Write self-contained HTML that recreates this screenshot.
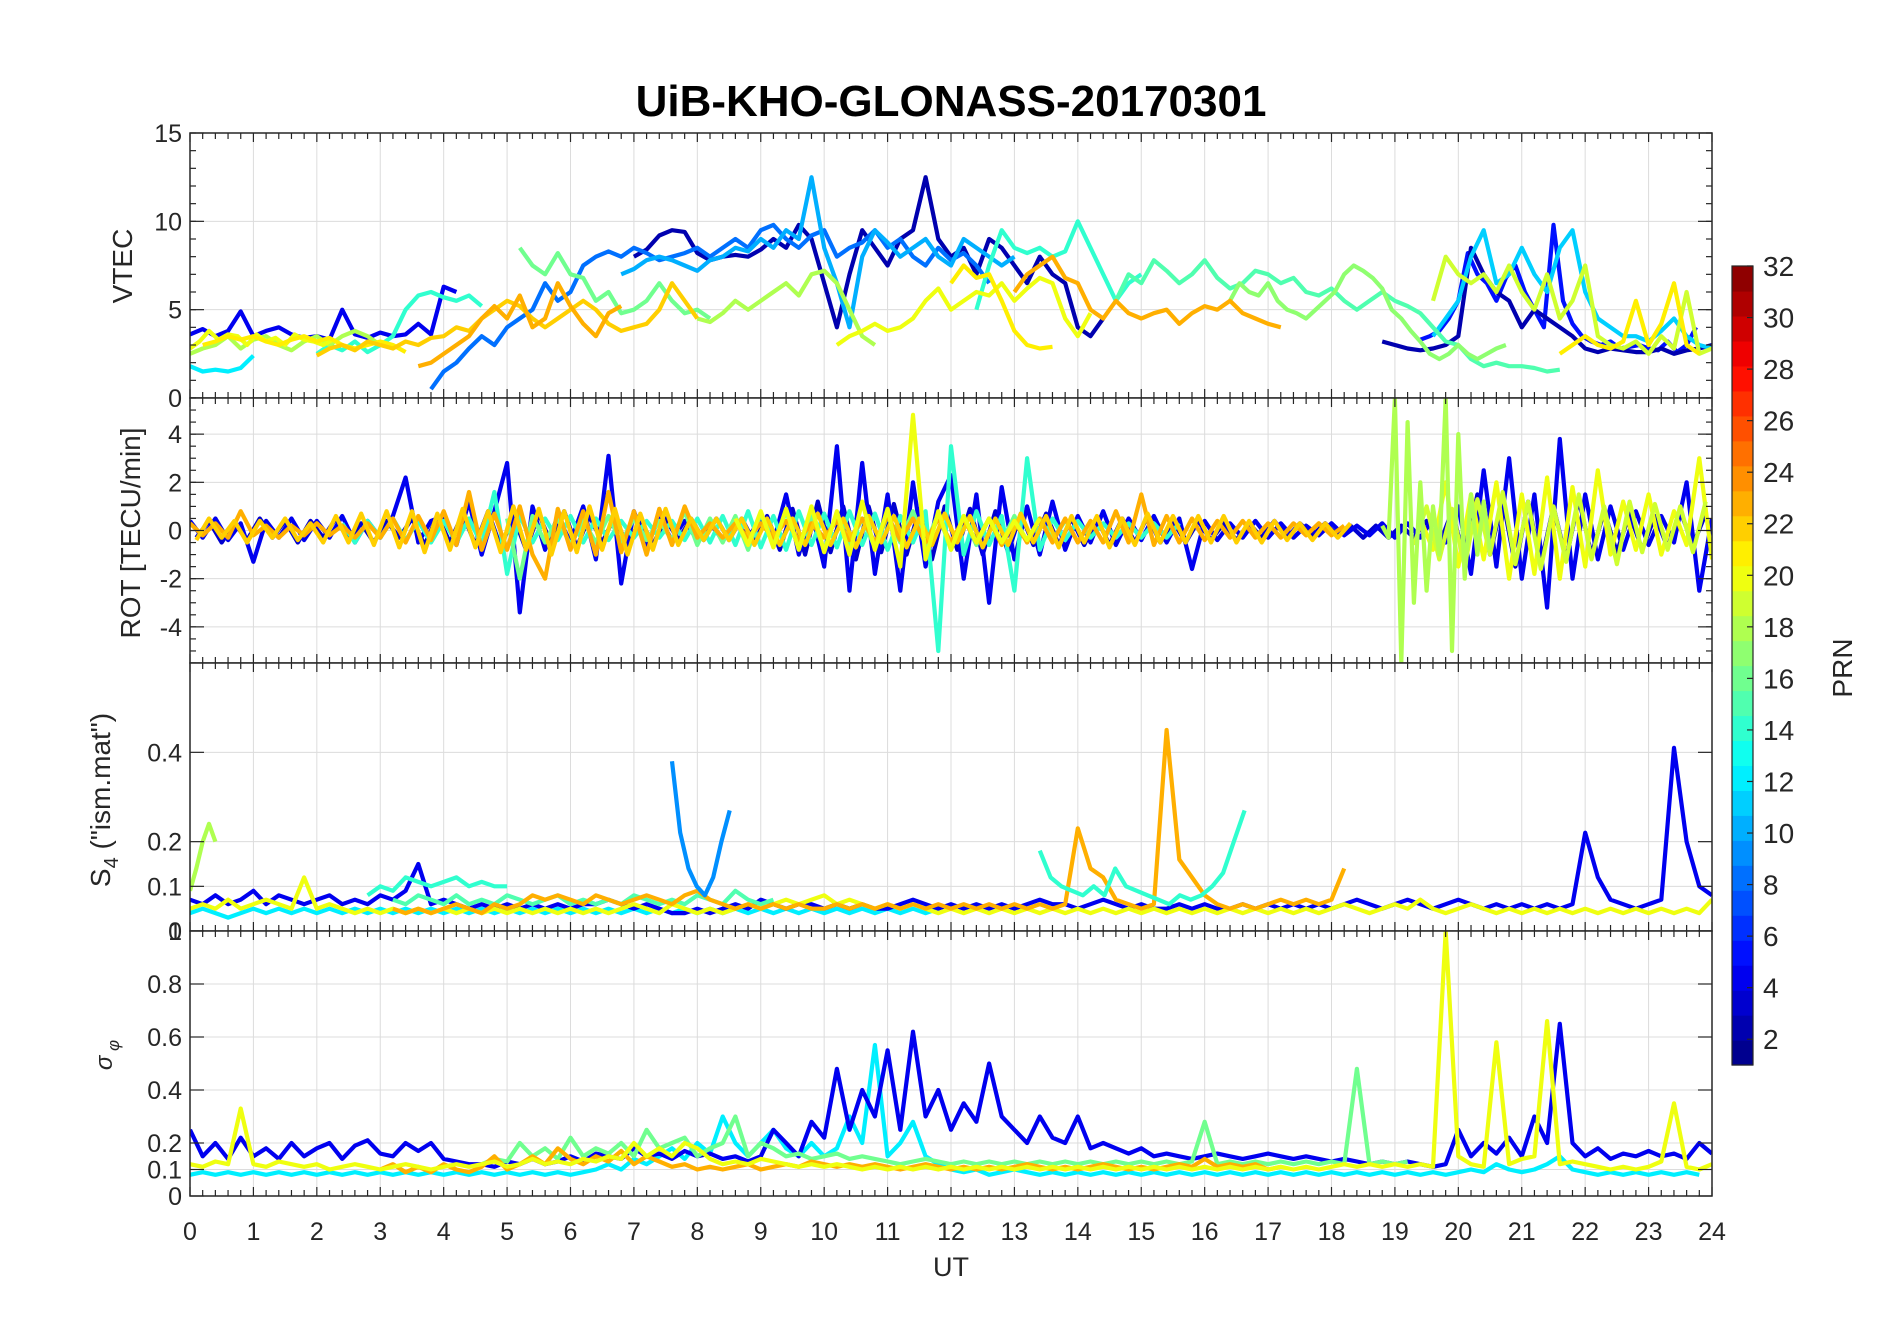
<!DOCTYPE html>
<html><head><meta charset="utf-8"><style>
html,body{margin:0;padding:0;background:#fff;}
svg{display:block;font-family:"Liberation Sans",Arial,sans-serif;}
</style></head><body>
<svg id="fig" width="1902" height="1330" viewBox="0 0 1902 1330" xmlns="http://www.w3.org/2000/svg">
<text x="951" y="116" text-anchor="middle" font-size="44" font-weight="bold" fill="#000">UiB-KHO-GLONASS-20170301</text>
<g id="panels"></g>
<text x="951" y="1276" text-anchor="middle" font-size="27" fill="#262626">UT</text>
<text transform="translate(132,266) rotate(-90)" text-anchor="middle" font-size="28" fill="#262626">VTEC</text>
<text transform="translate(140,533) rotate(-90)" text-anchor="middle" font-size="28" fill="#262626">ROT [TECU/min]</text>
<text transform="translate(110,800) rotate(-90)" text-anchor="middle" font-size="28" fill="#262626">S<tspan font-size="20" dy="8">4</tspan><tspan dy="-8"> ("ism.mat")</tspan></text>
<text transform="translate(112,1055) rotate(-90)" text-anchor="middle" font-size="24" font-style="italic" fill="#262626">σ<tspan font-size="17" dy="7"> φ</tspan></text>
<g id="cbar"></g>
<text transform="translate(1852,668) rotate(-90)" text-anchor="middle" font-size="28" fill="#262626">PRN</text>
</svg>
<script>
// ---------- data ----------
const hourTicks=[0,1,2,3,4,5,6,7,8,9,10,11,12,13,14,15,16,17,18,19,20,21,22,23,24];
const vtecTicks=[0,5,10,15];
const rotTicks=[-4,-2,0,2,4];
const s4Ticks=[0,0.1,0.2,0.4];
const s4TickLabels=["0","0.1","0.2","0.4"];
const sigTicks=[0,0.1,0.2,0.4,0.6,0.8,1];
const sigTickLabels=["0","0.1","0.2","0.4","0.6","0.8","1"];
const cbarTicks=[2,4,6,8,10,12,14,16,18,20,22,24,26,28,30,32];

// VTEC series
const vtecBlue=[3.6,3.9,3.5,3.8,4.9,3.5,3.8,4.0,3.6,3.4,3.5,3.3,5.0,3.6,3.4,3.7,3.5,3.6,4.2,3.6,6.3,6.0];
const vtecBlue2=[3.3,3.5,3.8,4.5,5.5,8.2,7.0,6.5,5.5,6.8,7.5,6.0,5.0,4.0,9.8,5.5,4.2,3.5,3.2,3.0,3.2,2.8,2.9,3.0,2.8,2.7,3.2,2.6,3.0,4.0];
const vtecNavy=[8.0,8.4,9.2,9.5,9.4,8.2,7.8,8.0,8.1,8.0,8.4,9.0,8.5,9.8,9.0,6.5,4.0,7.0,9.5,8.5,7.5,9.0,9.5,12.5,9.0,8.0,8.5,7.0,9.0,8.5,7.5,6.5,8.0,7.0,6.5,4.0,3.5,4.5];
const vtecNavy2=[3.2,3.0,2.8,2.7,2.8,3.0,3.5,8.5,7.0,6.0,5.5,4.0,5.0,4.5,4.0,3.5,2.8,2.6,2.8,2.7,2.6,2.6,2.8,2.5,2.7,2.8,3.0];
const vtecAzure=[0.5,1.5,2.0,2.8,3.5,3.0,4.0,4.5,5.0,6.5,5.5,6.0,7.5,8.0,8.3,8.0,8.5,8.2,7.8,8.0,8.2,8.5,8.0,8.5,9.0,8.5,9.5,9.8,9.0,8.5,9.2,9.5,8.0,8.5,8.8,9.5,8.5,9.0,8.0,7.5,8.5,7.8,8.2,7.5,6.5];
const vtecSky=[7.0,7.3,7.8,8.0,7.8,7.5,7.2,7.8,8.0,8.5,8.3,9.0,8.5,9.5,9.0,12.5,8.5,6.5,4.0,8.0,9.5,8.8,8.0,8.5,9.0,8.0,7.5,9.0,8.5,8.0,7.5,8.0];
const vtecSky2=[3.5,4.5,5.5,8.0,9.5,6.5,7.0,8.5,7.0,6.0,8.5,9.5,6.0,4.5,4.0,3.5,3.5,3.2,3.8,4.5,3.5,3.0,2.8];
const vtecCyan=[1.8,1.5,1.6,1.5,1.7,2.4];
const vtecAqua=[2.5,3.0,2.7,3.2,2.6,3.0,3.5,5.0,5.8,6.0,5.7,5.5,5.8,5.2,null,null,null,null,null,null,null,null,null,null,null,null,null,null,null,null,null,null,null,null,null,null,null,null,null,null,null,null,null,null,null,null,null,null,null,null,null,null,5.0,7.5,9.5,8.5,8.2,8.5,8.0,8.3,10.0,8.5,7.0,5.5,6.5,7.0];
const vtecSpring=[5.5,7.0,6.5,7.8,7.2,6.5,7.0,7.8,6.8,6.2,6.5,7.2,7.0,6.5,6.8,6.0,5.8,6.2,5.5,5.0,5.5,6.0,5.5,5.2,4.8,4.0,3.2,3.0,2.2,1.8,2.0,1.8,1.8,1.7,1.5,1.6];
const vtecLime=[8.5,7.5,7.0,8.2,7.0,6.8,5.5,6.0,4.8,5.0,5.5,6.5,5.5,4.8,5.0,4.5];
const vtecLime2=[5.5,6.5,6.0,5.8,6.5,5.5,5.0,4.8,4.5,5.0,5.5,6.0,7.0,7.5,7.2,6.8,6.2,5.0,4.5,3.8,3.2,2.5,2.2,2.5,3.0,2.5,2.2,2.5,2.8,3.0];
const vtecYG=[2.5,2.8,3.0,3.5,2.8,3.3,3.5,3.0,2.7,3.2,3.5,3.0,3.5,3.8,3.5,3.0];
const vtecYG2=[4.5,4.3,4.8,5.5,5.0,5.5,6.0,6.5,5.8,7.0,7.2,6.5,5.0,3.5,3.0];
const vtecYellow=[2.8,3.2,3.8,3.3,3.6,3.5,3.0,3.6,3.2,3.4,3.0,3.6,3.3,3.2,3.0,3.3];
const vtecYellow2=[3.0,3.5,3.8,4.2,3.8,4.0,4.5,5.5,6.2,5.0,5.5,6.0,5.8,6.5,5.5,6.2,6.8,6.5,4.5,3.5,4.8];
const vtecYellow3=[5.5,8.0,7.0,6.5,7.0,6.0,7.5,6.0,5.0,7.0,4.5,5.5,7.5,3.5,3.0,2.8,3.2,2.5,3.5,2.8,6.0,2.5,2.8];
const vtecGold=[3.0,3.2,3.5,3.3,3.5,3.2,3.0,3.3,3.5,3.2,3.4,3.0,2.8,3.0,3.2,3.0,2.6];
const vtecGold2=[6.5,7.5,6.8,7.0,5.5,3.8,3.0,2.8,2.9];
const vtecGold3=[2.5,3.0,3.5,3.0,2.8,3.2,5.5,3.0,4.2,6.5,3.0,2.5];
const vtecOrange=[2.4,2.8,3.0,2.7,3.2,3.0,2.8,3.2,3.0,3.4,3.5,4.0,3.8,4.5,5.0,5.5,5.2,4.5,4.0,4.5,5.0,5.5,5.0,4.2,3.8,4.0,4.2,5.0,6.5,5.5,4.5];
const vtecOrange2=[1.8,2.0,2.5,3.0,3.5,4.5,5.2,4.5,5.8,4.0,4.5,6.5,5.2,4.2,3.5,4.8,5.2];
const vtecOrange3=[6.0,7.0,7.5,8.0,6.8,6.5,5.0,4.5,5.5,4.8,4.5,4.8,5.0,4.2,4.8,5.2,5.0,5.5,4.8,4.5,4.2,4.0];

// ROT series
const rotBlue=[0.4,-0.3,0.5,-0.4,0.3,-1.3,0.4,-0.3,0.5,-0.4,0.4,-0.3,0.6,-0.5,0.4,-0.3,0.6,2.2,-0.5,0.4,0.6,-0.6,1.2,-1.0,0.8,2.8,-3.4,1.0,-0.8,0.6,-0.5,1.0,-1.2,3.1,-2.2,0.8,-0.6,0.5,-0.4,0.4,-0.4,0.3,-0.4,0.4,-0.3,0.5,-0.5,1.5,-1.0,0.8,-1.5,3.5,-2.5,2.8,-1.8,1.5,-2.5,2.0,-1.5,1.2,2.3,-2.0,1.5,-3.0,1.8,-1.2,1.0,-1.0,1.2,-0.8,0.6,-0.5,0.8,-0.6,0.5,-0.4,0.6,-0.5,0.5,-1.6,0.4,-0.4,0.3,-0.3,0.4,-0.3,0.3,-0.3,0.2,-0.2,0.3,-0.2,0.2,-0.2,0.3,-0.3,0.3,-0.3,0.5,-0.5,1.0,-1.8,2.5,-1.5,3.0,-2.0,1.5,-3.2,3.8,-2.0,1.5,-1.2,1.0,-0.8,0.8,-0.6,0.6,-0.5,2.0,-2.5,0.5];
const rotBlue2=[-0.3,0.4,-0.5,0.3,-0.4,0.5,-0.3,0.4,-0.5,0.4,-0.3,0.5,-0.4,0.3,-0.5,0.4,-0.3,0.5,-0.6,0.6,-0.5,0.7,-0.6,0.8,-0.7,0.6,-0.8,0.7,-0.6,0.8,-0.7,0.6,-0.5,0.6,-0.7,0.5,-0.6,0.5,-0.4,0.5,-0.4,0.5,-0.4,0.5,-0.5,0.6,-0.8,0.9,-1.0,1.2,-0.9,1.0,-1.2,1.0,-0.9,1.1,-1.0,0.9,-1.2,1.0,-0.8,0.9,-1.0,0.8,-0.9,0.7,-0.6,0.7,-0.6,0.5,-0.6,0.5,-0.6,0.5,-0.5,0.6,-0.5,0.4,-0.5,0.4,-0.4,0.3,-0.4,0.3,-0.3,0.4,-0.3,0.3,-0.2,0.3,-0.2,0.2,-0.3,0.2,-0.3,0.2,-0.3,0.4,-0.6,0.8,-1.2,1.5,-1.0,1.3,-1.5,1.2,-1.4,1.0,-1.2,1.3,-1.0,0.8,-0.9,0.7,-0.8,0.6,-0.7,0.8,-0.6,0.7];
const rotOrange=[0.3,-0.2,0.3,-0.3,0.8,-0.2,0.2,-0.3,0.2,-0.2,0.3,-0.2,0.2,-0.3,0.3,-0.3,0.5,-0.5,0.6,-0.4,0.8,-0.6,1.6,-0.8,0.7,-0.8,1.0,-1.0,-2.0,0.9,-0.8,0.8,-1.0,1.6,-0.9,0.8,-1.0,0.9,-0.6,1.0,-0.3,0.3,-0.3,0.3,-0.3,0.3,-0.3,0.4,-0.4,0.3,-0.3,0.4,-0.4,0.5,-0.5,0.6,-0.4,0.5,-0.5,0.5,-0.5,0.5,-0.5,0.5,-0.6,0.4,-0.5,0.5,-0.5,0.5,-0.5,0.4,-0.5,0.8,-0.5,1.5,-0.6,0.6,-0.5,0.5,-0.4,0.4,-0.3,0.4,-0.3,0.3,-0.3,0.3,-0.2,0.3,-0.2,0.2];
const rotOrange2=[-0.4,0.5,-0.3,0.4,-0.5,0.4,-0.3,0.5,-0.4,0.3,-0.5,0.6,-0.5,0.7,-0.6,0.8,-0.7,0.8,-0.9,0.7,-0.8,0.9,-0.7,0.8,-0.9,1.0,-0.8,0.9,-1.0,0.8,-0.9,1.0,-0.8,0.9,-1.0,0.7,-0.8,0.9,-0.6,0.5,-0.4,0.5,-0.4,0.5,-0.6,0.5,-0.6,0.5,-0.6,0.7,-0.6,0.5,-0.7,0.6,-0.5,0.6,-0.7,0.5,-0.6,0.7,-0.5,0.6,-0.7,0.5,-0.6,0.7,-0.5,0.6,-0.7,0.6,-0.5,0.6,-0.7,0.5,-0.6,0.7,-0.5,0.6,-0.5,0.6,-0.5,0.6,-0.5,0.4,-0.5,0.4,-0.4,0.3,-0.4,0.3,-0.3,0.3];
const rotYellow=[0.5,-0.6,0.8,-0.7,0.9,-0.8,1.0,-0.9,0.8,-1.0,1.2,-0.8,0.9,-1.5,4.8,-1.2,0.8,-0.8,0.6,-0.5,0.5,-0.5,0.4,-0.4,0.5];
const rotYellow2=[0.5,-0.8,2.0,-1.5,1.5,-1.2,2.0,-2.0,1.5,-1.8,2.2,-2.0,1.8,-1.5,2.5,-1.0,1.2,-0.8,1.5,-1.0,0.8,-0.6,3.0,-1.2];
const rotYellow3=[-0.6,1.0,-1.2,0.9,-1.5,1.3,-1.0,1.6,-1.4,1.2,-1.6,1.0,-1.3,1.5,-1.2,1.0,-1.4,1.2,-0.9,1.1,-0.8,1.0,-0.9,1.2];
const rotYG=[0.2,-0.3,5.5,-5.5,4.5,-3.0,2.0,-2.5,1.0,-1.0,5.5,-5.0,4.0,-2.0,1.5,-1.0,1.2,-0.8];
const rotLime=[0.5,-2.0,0.6,-0.5,0.5,-0.6,0.4,-0.5,0.6,-0.5,0.5,-0.4,0.4,-0.4,0.8,-0.6,0.5,-0.5,0.6,-0.8,0.7,-0.6,0.8,-0.7,0.6,-0.8,0.7,-0.6,0.5,-0.7,0.6,-0.5,0.8,-0.6,0.7,-0.8,0.6,-0.6,0.5,-0.5,0.6,-0.5,0.5,-0.4,0.4];
const rotAqua=[0.3,-0.5,0.4,-0.3,0.5,-0.4,0.4,-0.5,0.4,-0.5,0.5,-0.6,1.6,-1.8,0.6,-0.5,0.5,-0.4,0.6,-0.5,0.5,-0.4,0.4,-0.3,0.4,-0.3,0.4,-0.4,0.5,-0.5,0.6,-0.6,0.8,-0.7,0.6,-0.8,0.8,-0.6,0.7,-0.7,0.8,-0.6,0.7,-0.8,0.6,-0.5,0.8,-5.0,3.5,-1.0,0.8,-0.6,0.6,-2.5,3.0,-0.8,0.5,-0.4,0.4,-0.3,0.3,-0.3,0.3,-0.3,0.3,-0.3,0.3];

// S4 series
const s4Blue=[0.07,0.06,0.08,0.06,0.07,0.09,0.06,0.08,0.07,0.06,0.07,0.08,0.06,0.07,0.06,0.08,0.07,0.09,0.15,0.06,0.07,0.06,0.05,0.06,0.05,0.06,0.05,0.06,0.05,0.06,0.05,0.06,0.06,0.07,0.06,0.05,0.06,0.05,0.04,0.04,0.05,0.04,0.05,0.06,0.05,0.07,0.06,0.05,0.06,0.06,0.05,0.06,0.05,0.06,0.05,0.05,0.06,0.07,0.06,0.05,0.06,0.05,0.06,0.05,0.06,0.05,0.06,0.07,0.06,0.06,0.05,0.06,0.07,0.06,0.05,0.06,0.05,0.05,0.06,0.05,0.06,0.05,0.05,0.06,0.05,0.06,0.05,0.06,0.05,0.06,0.05,0.06,0.07,0.06,0.05,0.06,0.07,0.06,0.05,0.06,0.07,0.06,0.05,0.06,0.05,0.06,0.05,0.06,0.05,0.06,0.22,0.12,0.07,0.06,0.05,0.06,0.07,0.41,0.2,0.1,0.08];
const s4Orange=[0.05,0.04,0.05,0.04,0.05,0.06,0.05,0.04,0.06,0.05,0.06,0.08,0.07,0.08,0.07,0.06,0.08,0.07,0.06,0.07,0.08,0.07,0.06,0.08,0.09,0.07,0.06,0.05,0.06,0.05,0.06,0.05,0.06,0.05,0.05,0.06,0.05,0.06,0.05,0.06,0.05,0.06,0.05,0.06,0.05,0.06,0.05,0.06,0.05,0.06,0.05,0.06,0.05,0.06,0.23,0.14,0.12,0.07,0.06,0.05,0.06,0.45,0.16,0.12,0.08,0.06,0.05,0.06,0.05,0.06,0.07,0.06,0.07,0.06,0.07,0.14];
const s4Yellow=[0.05,0.06,0.05,0.07,0.05,0.06,0.07,0.06,0.05,0.12,0.05,0.06,0.05,0.04,0.05,0.04,0.05,0.04,0.05,0.04,0.05,0.04,0.05,0.04,0.05,0.04,0.05,0.04,0.05,0.04,0.05,0.04,0.05,0.04,0.05,0.06,0.05,0.04,0.06,0.05,0.04,0.05,0.04,0.05,0.06,0.05,0.06,0.07,0.06,0.07,0.08,0.06,0.07,0.06,0.05,0.06,0.05,0.06,0.05,0.04,0.05,0.04,0.05,0.04,0.05,0.04,0.05,0.04,0.05,0.04,0.05,0.04,0.05,0.04,0.05,0.04,0.05,0.04,0.05,0.04,0.05,0.04,0.05,0.04,0.05,0.04,0.05,0.04,0.05,0.04,0.05,0.06,0.05,0.04,0.05,0.06,0.05,0.07,0.05,0.04,0.05,0.06,0.05,0.04,0.05,0.04,0.05,0.04,0.05,0.04,0.05,0.04,0.05,0.04,0.05,0.04,0.05,0.04,0.05,0.04,0.07];
const s4YG=[0.09,0.14,0.2,0.24,0.2];
const s4Sky=[0.38,0.22,0.14,0.1,0.08,0.12,0.2,0.27];
const s4Aqua=[0.18,0.12,0.1,0.09,0.08,0.1,0.08,0.14,0.1,0.09,0.08,0.07,0.06,0.08,0.07,0.08,0.1,0.13,0.2,0.27];
const s4Aqua2=[0.08,0.1,0.09,0.12,0.11,0.1,0.11,0.12,0.1,0.11,0.1,0.1];
const s4Cyan=[0.04,0.05,0.04,0.03,0.04,0.05,0.04,0.05,0.04,0.05,0.04,0.05,0.04,0.05,0.04,0.05,0.04,0.05,0.04,0.05,0.04,0.05,0.04,0.05,0.04,0.05,0.04,0.05,0.04,0.05,0.04,0.05,0.04,0.05,0.04,0.05,0.04,0.05,0.04,0.05,0.04,0.05,0.04,0.05,0.04,0.05,0.04,0.05,0.04,0.05,0.04,0.05,0.04,0.05,0.04,0.05,0.04,0.05,0.04,0.05];
const s4Spring=[0.07,0.06,0.08,0.07,0.06,0.08,0.06,0.07,0.06,0.08,0.07,0.06,0.07,0.08,0.06,0.07,0.06,0.07,0.06,0.08,0.07,0.06,0.07,0.06,0.08,0.07,0.06,0.09,0.07,0.06,0.07];

// sigma-phi series
const sigBlue=[0.25,0.15,0.2,0.14,0.22,0.15,0.18,0.14,0.2,0.15,0.18,0.2,0.14,0.19,0.21,0.16,0.15,0.2,0.17,0.2,0.14,0.13,0.12,0.12,0.11,0.13,0.12,0.14,0.12,0.13,0.15,0.13,0.16,0.15,0.14,0.18,0.15,0.16,0.14,0.17,0.15,0.16,0.14,0.15,0.13,0.15,0.25,0.2,0.15,0.28,0.22,0.48,0.25,0.4,0.3,0.55,0.25,0.62,0.3,0.4,0.25,0.35,0.28,0.5,0.3,0.25,0.2,0.3,0.22,0.2,0.3,0.18,0.2,0.18,0.16,0.18,0.15,0.16,0.15,0.14,0.15,0.16,0.15,0.14,0.15,0.16,0.15,0.14,0.15,0.14,0.13,0.14,0.13,0.12,0.13,0.12,0.13,0.12,0.11,0.12,0.25,0.15,0.2,0.16,0.22,0.15,0.3,0.2,0.65,0.2,0.15,0.18,0.14,0.16,0.15,0.17,0.15,0.16,0.14,0.2,0.16];
const sigCyan=[0.08,0.09,0.08,0.09,0.08,0.09,0.08,0.09,0.08,0.09,0.08,0.09,0.08,0.09,0.08,0.09,0.08,0.09,0.08,0.09,0.08,0.09,0.08,0.09,0.08,0.09,0.08,0.09,0.08,0.09,0.08,0.09,0.1,0.12,0.1,0.14,0.12,0.15,0.18,0.14,0.2,0.16,0.3,0.2,0.15,0.2,0.25,0.18,0.15,0.2,0.15,0.18,0.3,0.2,0.57,0.15,0.2,0.28,0.15,0.12,0.1,0.09,0.1,0.08,0.09,0.1,0.09,0.08,0.09,0.08,0.09,0.08,0.09,0.08,0.09,0.08,0.09,0.08,0.09,0.08,0.09,0.08,0.09,0.08,0.09,0.08,0.09,0.08,0.09,0.08,0.09,0.08,0.09,0.08,0.09,0.08,0.09,0.08,0.09,0.08,0.09,0.1,0.09,0.12,0.1,0.09,0.1,0.12,0.15,0.1,0.09,0.08,0.09,0.08,0.09,0.08,0.09,0.08,0.09,0.08];
const sigOrange=[0.1,0.12,0.09,0.11,0.09,0.12,0.1,0.09,0.11,0.15,0.1,0.12,0.15,0.12,0.18,0.14,0.12,0.15,0.13,0.17,0.12,0.15,0.13,0.11,0.12,0.1,0.11,0.1,0.11,0.12,0.1,0.11,0.12,0.11,0.13,0.12,0.11,0.12,0.11,0.12,0.11,0.1,0.11,0.12,0.11,0.1,0.11,0.1,0.11,0.1,0.11,0.12,0.11,0.1,0.11,0.1,0.11,0.12,0.11,0.1,0.11,0.1,0.11,0.12,0.11,0.14,0.11,0.12,0.11,0.12,0.1,0.11];
const sigYellow=[0.12,0.11,0.13,0.12,0.33,0.12,0.11,0.13,0.12,0.11,0.12,0.1,0.11,0.12,0.11,0.1,0.11,0.12,0.11,0.1,0.11,0.12,0.11,0.12,0.13,0.11,0.12,0.14,0.12,0.13,0.12,0.14,0.13,0.15,0.14,0.2,0.15,0.18,0.15,0.2,0.18,0.14,0.12,0.13,0.12,0.14,0.13,0.12,0.11,0.12,0.11,0.12,0.11,0.1,0.11,0.1,0.11,0.1,0.11,0.1,0.11,0.1,0.11,0.1,0.11,0.1,0.11,0.1,0.11,0.1,0.11,0.1,0.11,0.1,0.11,0.1,0.11,0.1,0.11,0.1,0.11,0.1,0.11,0.1,0.11,0.1,0.11,0.1,0.11,0.1,0.11,0.12,0.11,0.12,0.11,0.12,0.11,0.12,0.11,1.0,0.15,0.12,0.11,0.58,0.12,0.14,0.15,0.66,0.12,0.13,0.12,0.11,0.1,0.11,0.1,0.11,0.13,0.35,0.11,0.1,0.12];
const sigLime=[0.12,0.14,0.13,0.2,0.15,0.18,0.14,0.22,0.15,0.18,0.16,0.2,0.15,0.25,0.18,0.2,0.22,0.15,0.18,0.2,0.3,0.15,0.2,0.18,0.15,0.16,0.14,0.15,0.16,0.14,0.15,0.14,0.13,0.12,0.13,0.14,0.13,0.12,0.13,0.12,0.13,0.12,0.13,0.12,0.13,0.12,0.13,0.12,0.13,0.12,0.13,0.12,0.13,0.12,0.13,0.12,0.13,0.28,0.12,0.13,0.12,0.13,0.12,0.13,0.12,0.13,0.12,0.13,0.12,0.48,0.12,0.13,0.12,0.13];

const series=[
 ["vtec",4,0,0.2,vtecBlue],["vtec",5,19.4,0.15,vtecBlue2],["vtec",2,7.0,0.2,vtecNavy],["vtec",2,18.8,0.2,vtecNavy2],
 ["vtec",8,3.8,0.2,vtecAzure],["vtec",10,6.8,0.2,vtecSky],["vtec",11,19.6,0.2,vtecSky2],["vtec",12,0,0.2,vtecCyan],
 ["vtec",14,2.0,0.2,vtecAqua],["vtec",15,14.6,0.2,vtecSpring],["vtec",16,5.2,0.2,vtecLime],["vtec",17,16.4,0.15,vtecLime2],
 ["vtec",18,0,0.2,vtecYG],["vtec",18,8.0,0.2,vtecYG2],["vtec",20,0,0.15,vtecYellow],["vtec",20,10.2,0.2,vtecYellow2],
 ["vtec",19,19.6,0.2,vtecYellow3],["vtec",21,0.2,0.2,vtecGold],["vtec",21,12.0,0.2,vtecGold2],["vtec",21,21.6,0.2,vtecGold3],
 ["vtec",22,2.0,0.2,vtecOrange],["vtec",23,3.6,0.2,vtecOrange2],["vtec",23,13.0,0.2,vtecOrange3],
 ["rot",3,0.1,0.2,rotBlue2],["rot",4,0,0.2,rotBlue],["rot",14,2.4,0.2,rotAqua],["rot",16,5.0,0.2,rotLime],["rot",23,0,0.2,rotOrange],
 ["rot",22,0.1,0.2,rotOrange2],["rot",20,8.6,0.2,rotYellow],["rot",20,19.4,0.2,rotYellow2],["rot",19,19.3,0.2,rotYellow3],["rot",18,18.8,0.1,rotYG],
 ["s4",12,0,0.2,s4Cyan],["s4",4,0,0.2,s4Blue],["s4",15,3.2,0.2,s4Spring],["s4",20,0,0.2,s4Yellow],["s4",23,3.2,0.2,s4Orange],
 ["s4",18,0,0.1,s4YG],["s4",9,7.6,0.13,s4Sky],["s4",14,13.4,0.17,s4Aqua],["s4",14,2.8,0.2,s4Aqua2],
 ["sig",12,0,0.2,sigCyan],["sig",4,0,0.2,sigBlue],["sig",16,4.6,0.2,sigLime],["sig",23,3.0,0.2,sigOrange],["sig",20,0,0.2,sigYellow]
];

// ---------- layout ----------
const X0=190,X1=1712;
const panels={
 vtec:{top:133,bot:398,min:0,max:15,ticks:vtecTicks,labels:["0","5","10","15"],minor:1},
 rot:{top:398,bot:663,min:-5.5,max:5.5,ticks:rotTicks,labels:["-4","-2","0","2","4"],minor:0.5},
 s4:{top:663,bot:931,min:0,max:0.6,ticks:s4Ticks,labels:s4TickLabels,minor:0},
 sig:{top:931,bot:1196,min:0,max:1,ticks:sigTicks,labels:sigTickLabels,minor:0}
};
function xs(t){return X0+(t/24)*(X1-X0);}
function ys(p,v){return p.bot-(v-p.min)/(p.max-p.min)*(p.bot-p.top);}
function jet(i,n){
 const x=(i+0.5)/n;
 const f=c=>Math.round(255*Math.max(0,Math.min(1,1.5-Math.abs(4*x-c))));
 return `rgb(${f(3)},${f(2)},${f(1)})`;
}
function prnColor(p){return jet(p-1,32);}
const NS="http://www.w3.org/2000/svg";
function mk(tag,attrs,parent){const e=document.createElementNS(NS,tag);for(const k in attrs)e.setAttribute(k,attrs[k]);parent.appendChild(e);return e;}
const G=document.getElementById("panels");
const defs=mk("defs",{},G);
for(const key in panels){
 const p=panels[key];
 const g=mk("g",{},G);
 
 
 const cp=mk("clipPath",{id:"cp-"+key},defs);
 mk("rect",{x:X0,y:p.top,width:X1-X0,height:p.bot-p.top},cp);
 mk("rect",{x:X0,y:p.top,width:X1-X0,height:p.bot-p.top,fill:"#fff"},g);
 for(const h of hourTicks){ if(h>0&&h<24){const l=mk("line",{x1:xs(h),x2:xs(h),y1:p.top,y2:p.bot,stroke:"#dcdcdc","stroke-width":1},g);
  
  }}
 for(const v of p.ticks){ const y=ys(p,v); if(y>p.top+1&&y<p.bot-1){const l=mk("line",{x1:X0,x2:X1,y1:y,y2:y,stroke:"#dcdcdc","stroke-width":1},g);
  
  }}
 const sg=mk("g",{"clip-path":`url(#cp-${key})`},g);
 for(const s of series){ if(s[0]!==key) continue;
  const vals=s[4]; let d=""; let pen=false;
  vals.forEach((v,i)=>{ if(v===null){pen=false;return;} const t=s[2]+i*s[3]; if(t>24) return;
   d+=(pen?"L":"M")+xs(t).toFixed(1)+" "+ys(p,v).toFixed(1); pen=true;});
  const path=mk("path",{d:d,fill:"none",stroke:prnColor(s[1]),"stroke-width":4.2,"stroke-linejoin":"round"},sg);
  
  
 }
 const tg=mk("g",{stroke:"#262626","stroke-width":1.2},g);
 for(let m=0;m<=120;m++){const t=m*0.2;const x=xs(t);const L=(m%5===0)?9:6;
  mk("line",{x1:x,x2:x,y1:p.bot,y2:p.bot-L},tg); mk("line",{x1:x,x2:x,y1:p.top,y2:p.top+L},tg);}
 if(p.minor){for(let v=p.min;v<=p.max+1e-9;v+=p.minor){const y=ys(p,v);
  mk("line",{x1:X0,x2:X0+6,y1:y,y2:y},tg);mk("line",{x1:X1,x2:X1-6,y1:y,y2:y},tg);}}
 p.ticks.forEach((v,i)=>{const y=ys(p,v);
  mk("line",{x1:X0,x2:X0+14,y1:y,y2:y},tg);mk("line",{x1:X1,x2:X1-14,y1:y,y2:y},tg);
  const tx=mk("text",{x:X0-8,y:y+9,"text-anchor":"end","font-size":25,fill:"#262626",stroke:"none"},g);
  tx.textContent=p.labels[i];
  
  
 });
 mk("rect",{x:X0,y:p.top,width:X1-X0,height:p.bot-p.top,fill:"none",stroke:"#262626","stroke-width":1.5},g);
}
hourTicks.forEach(h=>{
 const t=mk("text",{x:xs(h),y:1240,"text-anchor":"middle","font-size":25,fill:"#262626"},G);
 t.textContent=String(h);
 
 
});
const CB=document.getElementById("cbar");
const cbX=1732,cbW=21,cbTop=266,cbBot=1065;
for(let i=0;i<32;i++){
 const y0=cbBot-(i+1)*(cbBot-cbTop)/32;
 const r=mk("rect",{x:cbX,y:y0.toFixed(2),width:cbW,height:((cbBot-cbTop)/32+0.6).toFixed(2),fill:jet(i,32)},CB);
 
 
}
mk("rect",{x:cbX,y:cbTop,width:cbW,height:cbBot-cbTop,fill:"none",stroke:"#262626","stroke-width":1.2},CB);
cbarTicks.forEach(v=>{
 const y=cbBot-(v-1)/31*(cbBot-cbTop);
 mk("line",{x1:cbX+cbW,x2:cbX+cbW-6,y1:y,y2:y,stroke:"#262626","stroke-width":1.2},CB);
 const t=mk("text",{x:cbX+cbW+10,y:y+10,"font-size":28,fill:"#262626"},CB);
 t.textContent=String(v);
 
 
});
</script>
</body></html>
